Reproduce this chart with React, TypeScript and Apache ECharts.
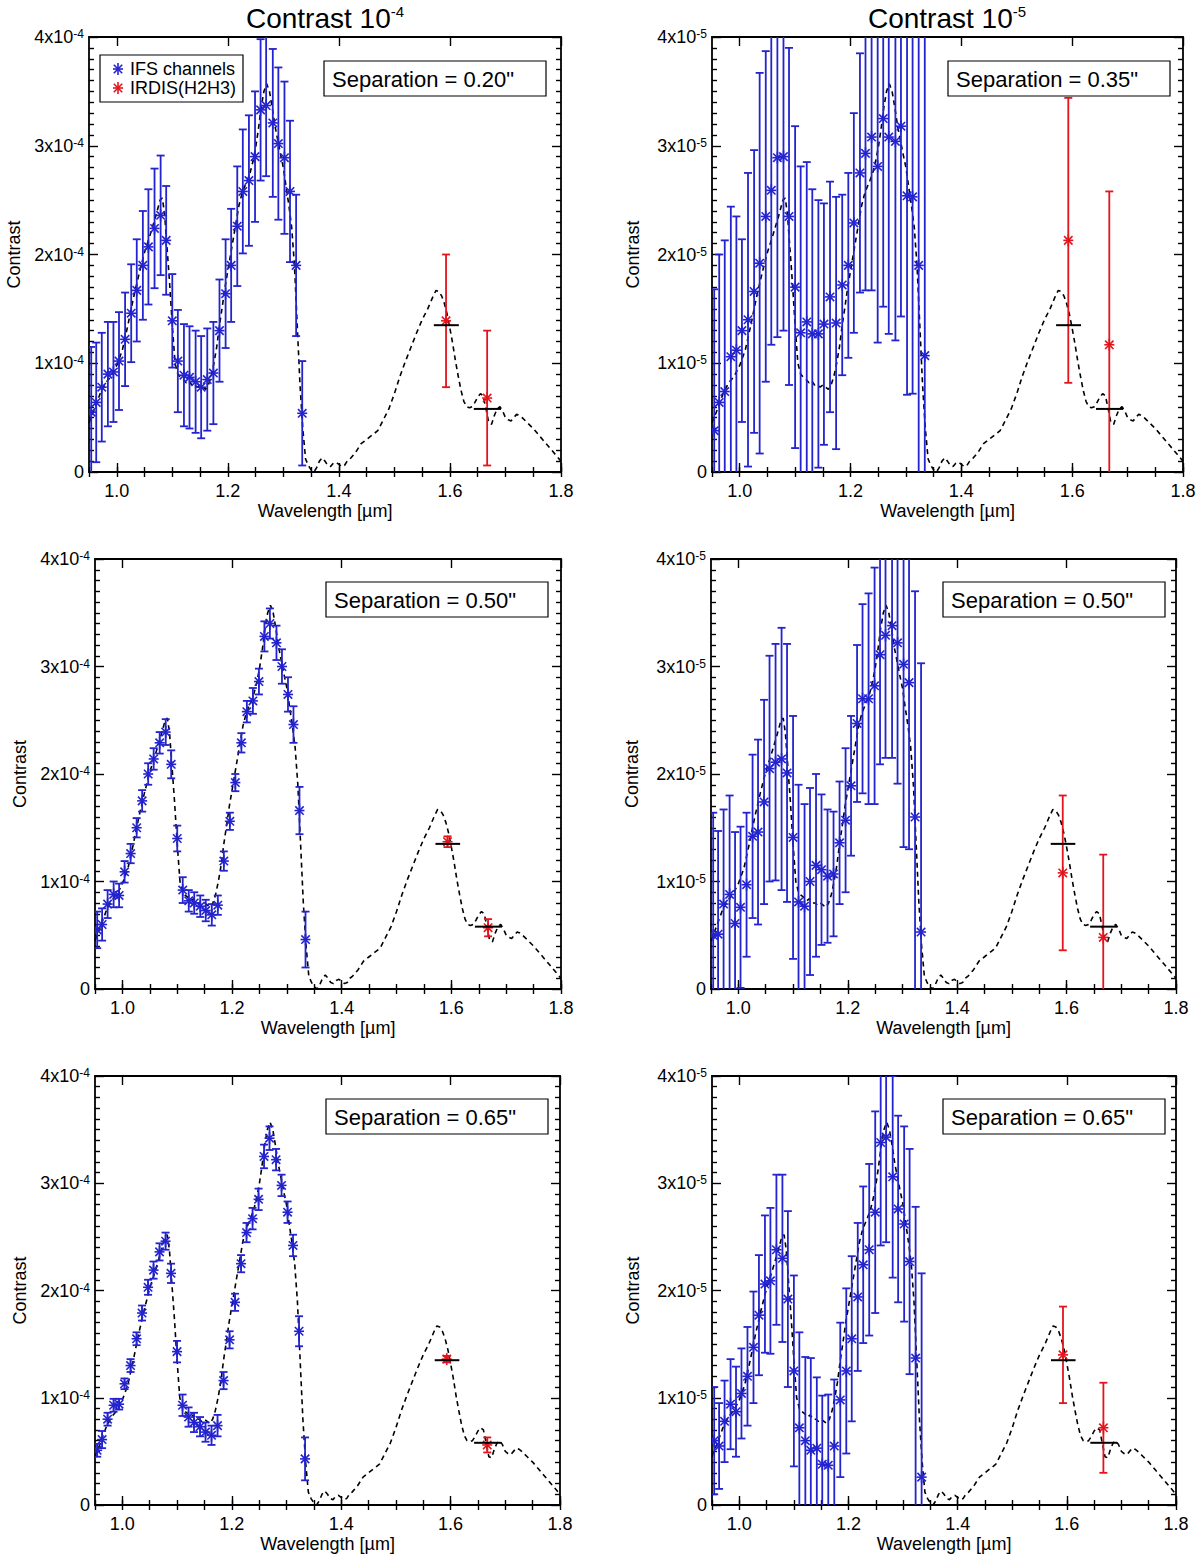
import React, { useEffect, useRef } from 'react';
import * as echarts from 'echarts';

// ---------------- DATA ----------------
const ifsWavelength = [
  0.954, 0.963, 0.973, 0.984, 0.994, 1.004, 1.015, 1.026, 1.036, 1.047, 1.057, 1.068, 1.079,
  1.089, 1.100, 1.110, 1.121, 1.131, 1.142, 1.152, 1.163, 1.174, 1.185, 1.196, 1.206, 1.217,
  1.227, 1.238, 1.249, 1.259, 1.269, 1.281, 1.291, 1.302, 1.312, 1.323, 1.334,
];

// values in units of 1e-4 (left column) or 1e-5 (right column)
const ifsSep020 = [0.55, 0.64, 0.78, 0.90, 0.92, 1.02, 1.22, 1.46, 1.67, 1.90, 2.07, 2.24, 2.36, 2.13, 1.39, 1.02, 0.89, 0.87, 0.83, 0.78, 0.85, 0.91, 1.30, 1.64, 1.90, 2.26, 2.58, 2.68, 2.90, 3.33, 3.37, 3.21, 3.02, 2.89, 2.58, 1.90, 0.54];
const ifsErr020 = [0.6, 0.55, 0.5, 0.48, 0.46, 0.45, 0.43, 0.45, 0.47, 0.5, 0.53, 0.55, 0.55, 0.5, 0.43, 0.47, 0.47, 0.47, 0.47, 0.47, 0.47, 0.47, 0.47, 0.5, 0.52, 0.55, 0.57, 0.6, 0.6, 0.65, 0.65, 0.68, 0.7, 0.7, 0.65, 0.65, 0.48];

const ifsSep035 = [0.38, 0.64, 0.74, 1.06, 1.12, 1.30, 1.40, 1.66, 1.92, 2.35, 2.59, 2.89, 2.90, 2.35, 1.70, 1.28, 1.38, 1.27, 1.27, 1.36, 1.61, 1.37, 1.72, 1.90, 2.29, 2.75, 2.93, 3.08, 2.81, 3.25, 3.08, 3.04, 3.18, 2.54, 2.53, 1.90, 1.07];
const ifsErr035 = [1.3, 1.36, 1.39, 1.38, 1.23, 0.84, 1.35, 1.3, 1.75, 1.52, 1.42, 1.65, 1.6, 1.55, 1.48, 1.53, 1.47, 1.33, 1.23, 1.11, 1.06, 1.16, 0.83, 0.85, 1.01, 1.1, 1.26, 1.41, 1.62, 1.73, 1.81, 1.83, 1.75, 1.83, 1.81, 2.5, 3.2];

const ifsSep050a = [0.55, 0.60, 0.79, 0.88, 0.87, 1.09, 1.26, 1.50, 1.75, 2.00, 2.14, 2.29, 2.39, 2.09, 1.40, 0.92, 0.82, 0.80, 0.77, 0.73, 0.69, 0.78, 1.19, 1.56, 1.92, 2.29, 2.58, 2.68, 2.86, 3.28, 3.40, 3.22, 3.00, 2.74, 2.46, 1.66, 0.46];
const ifsErr050a = [0.17, 0.15, 0.13, 0.12, 0.11, 0.1, 0.09, 0.09, 0.1, 0.1, 0.1, 0.1, 0.12, 0.13, 0.12, 0.12, 0.1, 0.1, 0.1, 0.1, 0.1, 0.09, 0.09, 0.08, 0.08, 0.09, 0.1, 0.12, 0.12, 0.14, 0.14, 0.16, 0.16, 0.16, 0.17, 0.22, 0.26];

const ifsSep050b = [0.50, 0.51, 0.79, 0.88, 0.61, 0.76, 0.97, 1.42, 1.46, 1.74, 2.05, 2.11, 2.14, 2.01, 1.41, 0.81, 0.77, 1.00, 1.15, 1.11, 1.05, 1.07, 1.36, 1.57, 1.89, 2.47, 2.70, 2.70, 2.82, 3.11, 3.29, 3.38, 3.22, 3.02, 2.85, 1.60, 0.53];
const ifsErr050b = [1.14, 0.96, 0.88, 0.92, 0.85, 0.75, 0.67, 0.76, 0.86, 0.95, 1.05, 1.1, 1.22, 1.2, 1.13, 1.09, 0.95, 0.87, 0.85, 0.7, 0.62, 0.58, 0.57, 0.67, 0.65, 0.73, 0.88, 0.98, 1.1, 1.02, 1.14, 1.23, 1.31, 1.7, 1.55, 2.1, 2.5];

const ifsSep065a = [0.51, 0.61, 0.80, 0.93, 0.94, 1.13, 1.30, 1.55, 1.79, 2.03, 2.19, 2.36, 2.46, 2.16, 1.43, 0.93, 0.82, 0.77, 0.73, 0.68, 0.65, 0.74, 1.16, 1.54, 1.89, 2.25, 2.54, 2.67, 2.85, 3.25, 3.42, 3.22, 2.98, 2.73, 2.42, 1.62, 0.43];
const ifsErr065a = [0.06, 0.08, 0.06, 0.06, 0.05, 0.05, 0.06, 0.06, 0.07, 0.07, 0.08, 0.08, 0.08, 0.09, 0.1, 0.1, 0.09, 0.09, 0.09, 0.09, 0.09, 0.1, 0.08, 0.08, 0.08, 0.08, 0.09, 0.1, 0.1, 0.11, 0.11, 0.1, 0.1, 0.1, 0.1, 0.14, 0.2];

const ifsSep065b = [0.60, 0.55, 0.78, 0.94, 0.87, 1.04, 1.20, 1.47, 1.77, 2.06, 2.09, 2.38, 2.30, 1.92, 1.25, 0.72, 0.60, 0.51, 0.53, 0.38, 0.37, 0.55, 0.98, 1.25, 1.55, 1.94, 2.24, 2.38, 2.73, 3.38, 3.43, 3.06, 2.76, 2.62, 2.27, 1.37, 0.26];
const ifsErr065b = [0.5, 0.4, 0.38, 0.42, 0.42, 0.42, 0.46, 0.52, 0.56, 0.64, 0.68, 0.7, 0.78, 0.82, 0.89, 0.89, 0.78, 0.86, 0.66, 0.64, 0.66, 0.62, 0.72, 0.77, 0.77, 0.69, 0.73, 0.8, 0.94, 0.96, 0.98, 0.94, 0.87, 0.91, 1.05, 1.41, 1.9];

const irdisWavelength = [1.593, 1.667];
const irdisSep020 = [1.39, 0.68];
const irdisErr020 = [0.61, 0.62];
const irdisSep035 = [2.13, 1.17];
const irdisErr035 = [1.31, 1.41];
const irdisSep050a = [1.37, 0.57];
const irdisErr050a = [0.05, 0.08];
const irdisSep050b = [1.08, 0.48];
const irdisErr050b = [0.72, 0.77];
const irdisSep065a = [1.36, 0.56];
const irdisErr065a = [0.03, 0.07];
const irdisSep065b = [1.40, 0.72];
const irdisErr065b = [0.45, 0.42];

// model integrated over the IRDIS filters
const bandLow = [1.571, 1.643];
const bandHigh = [1.616, 1.692];
const bandModel = [1.35, 0.58];

// model spectrum (dashed line)
const modelWavelength = [
  0.950, 0.960, 0.970, 0.980, 0.990, 1.000, 1.010, 1.020, 1.030, 1.040, 1.050, 1.060, 1.070, 1.078,
  1.082, 1.086, 1.090, 1.095, 1.100, 1.105, 1.110, 1.115, 1.120, 1.125, 1.130, 1.135, 1.140, 1.145,
  1.150, 1.155, 1.160, 1.165, 1.170, 1.175, 1.180, 1.185, 1.190, 1.195, 1.200, 1.205, 1.210, 1.215,
  1.220, 1.225, 1.230, 1.235, 1.240, 1.245, 1.250, 1.255, 1.260, 1.265, 1.270, 1.275, 1.280, 1.285,
  1.290, 1.295, 1.300, 1.305, 1.310, 1.315, 1.320, 1.325, 1.330, 1.335, 1.340, 1.345, 1.350, 1.355,
  1.360, 1.365, 1.370, 1.375, 1.380, 1.385, 1.390, 1.395, 1.400, 1.405, 1.410, 1.415, 1.420, 1.430,
  1.440, 1.450, 1.460, 1.470, 1.480, 1.490, 1.500, 1.510, 1.520, 1.530, 1.540, 1.550, 1.560, 1.570,
  1.575, 1.580, 1.585, 1.590, 1.595, 1.600, 1.605, 1.610, 1.615, 1.620, 1.625, 1.630, 1.635, 1.640,
  1.645, 1.650, 1.655, 1.660, 1.665, 1.670, 1.675, 1.680, 1.685, 1.690, 1.695, 1.700, 1.705, 1.710,
  1.715, 1.720, 1.725, 1.730, 1.740, 1.750, 1.760, 1.770, 1.780, 1.790, 1.800,
];
const modelContrast = [
  0.45, 0.58, 0.72, 0.82, 0.88, 0.98, 1.12, 1.35, 1.60, 1.82, 2.02, 2.18, 2.35, 2.50,
  2.52, 2.38, 2.10, 1.75, 1.35, 1.00, 0.90, 0.87, 0.85, 0.82, 0.84, 0.80, 0.80, 0.78,
  0.80, 0.78, 0.76, 0.80, 0.88, 1.00, 1.15, 1.35, 1.52, 1.70, 1.85, 2.00, 2.15, 2.30,
  2.45, 2.55, 2.62, 2.68, 2.75, 2.85, 2.98, 3.15, 3.35, 3.50, 3.57, 3.50, 3.35, 3.18,
  3.05, 2.92, 2.80, 2.62, 2.45, 2.25, 1.90, 1.35, 0.80, 0.40, 0.12, 0.06, 0.02, 0.00,
  0.04, 0.10, 0.13, 0.10, 0.06, 0.05, 0.08, 0.09, 0.07, 0.05, 0.06, 0.10, 0.12, 0.18,
  0.26, 0.30, 0.34, 0.38, 0.48, 0.58, 0.72, 0.88, 1.02, 1.15, 1.28, 1.40, 1.50, 1.62,
  1.67, 1.66, 1.62, 1.55, 1.45, 1.32, 1.18, 1.02, 0.88, 0.75, 0.65, 0.60, 0.59, 0.60,
  0.64, 0.69, 0.72, 0.70, 0.58, 0.45, 0.44, 0.52, 0.58, 0.60, 0.56, 0.50, 0.48, 0.47,
  0.50, 0.53, 0.52, 0.50, 0.45, 0.40, 0.34, 0.28, 0.22, 0.16, 0.10,
];

const xMajorTicks = [1.0, 1.2, 1.4, 1.6, 1.8];
const xMinorTicks = [0.95, 1.0, 1.05, 1.1, 1.15, 1.2, 1.25, 1.3, 1.35, 1.4, 1.45, 1.5, 1.55, 1.6, 1.65, 1.7, 1.75, 1.8];
const columnExponents = ['-4', '-5'];
const separations = ['0.20', '0.35', '0.50', '0.50', '0.65', '0.65'];

const ifsValues = [ifsSep020, ifsSep035, ifsSep050a, ifsSep050b, ifsSep065a, ifsSep065b];
const ifsErrors = [ifsErr020, ifsErr035, ifsErr050a, ifsErr050b, ifsErr065a, ifsErr065b];
const irdisValues = [irdisSep020, irdisSep035, irdisSep050a, irdisSep050b, irdisSep065a, irdisSep065b];
const irdisErrors = [irdisErr020, irdisErr035, irdisErr050a, irdisErr050b, irdisErr065a, irdisErr065b];

// ---------------- LAYOUT ----------------
const panels = [
  { left: 89, top: 37, width: 472, height: 435, box: [324, 61] },
  { left: 712, top: 37, width: 471, height: 435, box: [948, 61] },
  { left: 95, top: 559, width: 466, height: 430, box: [326, 582] },
  { left: 711, top: 559, width: 465, height: 430, box: [943, 582] },
  { left: 95, top: 1076, width: 465, height: 429, box: [326, 1099] },
  { left: 712, top: 1076, width: 464, height: 429, box: [943, 1099] },
];

const FONT = '"Liberation Sans", Arial, Helvetica, sans-serif';
const BLUE = '#2323cf';
const RED = '#e3141c';
const BLACK = '#000000';

function starLines(cx: number, cy: number, color: string, z?: number) {
  const r = 6;
  const h = 5;
  const d = 4.2;
  const style = { stroke: color, lineWidth: 1.6, fill: 'none' };
  const extra = z === undefined ? {} : { z };
  return [
    { type: 'line', ...extra, shape: { x1: cx, y1: cy - r, x2: cx, y2: cy + r }, style },
    { type: 'line', ...extra, shape: { x1: cx - h, y1: cy, x2: cx + h, y2: cy }, style },
    { type: 'line', ...extra, shape: { x1: cx - d, y1: cy - d, x2: cx + d, y2: cy + d }, style },
    { type: 'line', ...extra, shape: { x1: cx - d, y1: cy + d, x2: cx + d, y2: cy - d }, style },
  ];
}

function errorBarRenderer(color: string) {
  return (params: any, api: any) => {
    const x = api.value(0);
    const y = api.value(1);
    const e = api.value(2);
    const c = api.coord([x, y]);
    const t = api.coord([x, y + e]);
    const b = api.coord([x, y - e]);
    const cap = 4;
    const style = { stroke: color, lineWidth: 1.8, fill: 'none' };
    const children: any[] = [
      { type: 'line', shape: { x1: c[0], y1: t[1], x2: c[0], y2: b[1] }, style },
      { type: 'line', shape: { x1: c[0] - cap, y1: t[1], x2: c[0] + cap, y2: t[1] }, style },
      { type: 'line', shape: { x1: c[0] - cap, y1: b[1], x2: c[0] + cap, y2: b[1] }, style },
      ...starLines(c[0], c[1], color),
    ];
    return { type: 'group', children };
  };
}

function bandRenderer(params: any, api: any) {
  const p1 = api.coord([api.value(0), api.value(2)]);
  const p2 = api.coord([api.value(1), api.value(2)]);
  return {
    type: 'line',
    shape: { x1: p1[0], y1: p1[1], x2: p2[0], y2: p2[1] },
    style: { stroke: BLACK, lineWidth: 2, fill: 'none' },
  };
}

function buildOption() {
  const grid: any[] = [];
  const xAxis: any[] = [];
  const yAxis: any[] = [];
  const series: any[] = [];
  const graphic: any[] = [];

  const tickLine = { color: BLACK, width: 1.4 };
  const axisLineStyle = { color: BLACK, width: 1.8 };

  panels.forEach((p, i) => {
    const exp = columnExponents[i % 2];
    grid.push({ left: p.left, top: p.top, width: p.width, height: p.height, containLabel: false });

    const baseX = {
      type: 'value', gridIndex: i, min: 0.95, max: 1.8,
      splitLine: { show: false },
      axisLabel: { show: false },
      axisLine: { show: false },
      axisTick: { show: false },
    };
    xAxis.push({
      ...baseX,
      position: 'bottom',
      axisLine: { show: true, onZero: false, lineStyle: axisLineStyle },
      axisTick: { show: true, inside: true, length: 9, customValues: xMajorTicks, lineStyle: tickLine },
      axisLabel: {
        show: true, customValues: xMajorTicks, formatter: (v: number) => Number(v).toFixed(1),
        color: BLACK, fontSize: 18, fontFamily: FONT, margin: 10,
      },
      name: 'Wavelength [\u00b5m]', nameLocation: 'middle', nameGap: 30,
      nameTextStyle: { color: BLACK, fontSize: 18, fontFamily: FONT },
    });
    xAxis.push({
      ...baseX, position: 'bottom',
      axisTick: { show: true, inside: true, length: 5, customValues: xMinorTicks, lineStyle: tickLine },
    });
    xAxis.push({
      ...baseX, position: 'top',
      axisLine: { show: true, onZero: false, lineStyle: axisLineStyle },
      axisTick: { show: true, inside: true, length: 9, customValues: xMajorTicks, lineStyle: tickLine },
    });
    xAxis.push({
      ...baseX, position: 'top',
      axisTick: { show: true, inside: true, length: 5, customValues: xMinorTicks, lineStyle: tickLine },
    });

    const baseY = {
      type: 'value', gridIndex: i, min: 0, max: 4, interval: 1,
      splitLine: { show: false },
      axisLine: { show: true, onZero: false, lineStyle: axisLineStyle },
      axisTick: { show: true, inside: true, length: 9, lineStyle: tickLine },
      minorTick: { show: true, splitNumber: 10, length: 5, lineStyle: tickLine },
      minorSplitLine: { show: false },
    };
    yAxis.push({
      ...baseY, position: 'left',
      axisLabel: {
        show: true, margin: 5,
        formatter: (v: number) => (v === 0 ? '{m|0}' : `{m|${v}x10}{s|${exp}}`),
        rich: {
          m: { fontSize: 18, fontFamily: FONT, color: BLACK },
          s: { fontSize: 12, fontFamily: FONT, color: BLACK, verticalAlign: 'top' },
        },
      },
      name: 'Contrast', nameLocation: 'middle', nameRotate: 90, nameGap: i % 2 === 0 ? 66 : 70,
      nameTextStyle: { color: BLACK, fontSize: 18, fontFamily: FONT },
    });
    yAxis.push({ ...baseY, position: 'right', axisLabel: { show: false } });

    const xi = i * 4;
    const yi = i * 2;
    series.push({
      type: 'line', xAxisIndex: xi, yAxisIndex: yi, z: 2,
      data: modelWavelength.map((w, k) => [w, modelContrast[k]]),
      symbol: 'none', showSymbol: false, smooth: false, clip: true,
      lineStyle: { color: BLACK, width: 1.6, type: [5, 4] },
      silent: true,
    });
    series.push({
      type: 'custom', xAxisIndex: xi, yAxisIndex: yi, z: 3, clip: true,
      renderItem: errorBarRenderer(BLUE),
      encode: { x: 0, y: 1 },
      data: ifsWavelength.map((w, k) => [w, ifsValues[i][k], ifsErrors[i][k]]),
    });
    series.push({
      type: 'custom', xAxisIndex: xi, yAxisIndex: yi, z: 4, clip: true,
      renderItem: errorBarRenderer(RED),
      encode: { x: 0, y: 1 },
      data: irdisWavelength.map((w, k) => [w, irdisValues[i][k], irdisErrors[i][k]]),
    });
    series.push({
      type: 'custom', xAxisIndex: xi, yAxisIndex: yi, z: 5, clip: true,
      renderItem: bandRenderer,
      encode: { x: [0, 1], y: 2 },
      data: bandLow.map((lo, k) => [lo, bandHigh[k], bandModel[k]]),
    });

    // separation box
    graphic.push({
      type: 'rect', z: 50,
      shape: { x: p.box[0], y: p.box[1], width: 222, height: 35 },
      style: { fill: '#ffffff', stroke: BLACK, lineWidth: 1.2 },
    });
    graphic.push({
      type: 'text', z: 51, x: p.box[0] + 8, y: p.box[1] + 18,
      style: {
        text: `Separation = ${separations[i]}"`, fill: BLACK,
        font: `22px ${FONT}`, align: 'left', verticalAlign: 'middle',
      },
    });
  });

  // column titles
  [325, 947].forEach((cx, c) => {
    graphic.push({
      type: 'text', z: 51, x: cx, y: 18,
      style: {
        text: `{a|Contrast 10}{s|${columnExponents[c]}}`,
        align: 'center', verticalAlign: 'middle', fill: BLACK,
        rich: {
          a: { fontSize: 28, fontFamily: FONT, fill: BLACK },
          s: { fontSize: 15, fontFamily: FONT, fill: BLACK, verticalAlign: 'top' },
        },
      },
    });
  });

  // legend (panel 1)
  graphic.push({
    type: 'rect', z: 50,
    shape: { x: 100, y: 55, width: 143, height: 47 },
    style: { fill: '#ffffff', stroke: BLACK, lineWidth: 1.2 },
  });
  starLines(118, 69, BLUE, 52).forEach((el) => graphic.push(el));
  starLines(118, 88, RED, 52).forEach((el) => graphic.push(el));
  graphic.push({
    type: 'text', z: 51, x: 130, y: 69,
    style: { text: 'IFS channels', fill: BLACK, font: `18px ${FONT}`, align: 'left', verticalAlign: 'middle' },
  });
  graphic.push({
    type: 'text', z: 51, x: 130, y: 88,
    style: { text: 'IRDIS(H2H3)', fill: BLACK, font: `18px ${FONT}`, align: 'left', verticalAlign: 'middle' },
  });

  return {
    animation: false,
    backgroundColor: '#ffffff',
    textStyle: { fontFamily: FONT },
    grid, xAxis, yAxis, series, graphic,
  };
}

export default function App() {
  const ref = useRef<HTMLDivElement | null>(null);
  useEffect(() => {
    if (!ref.current) return;
    const chart = echarts.init(ref.current, undefined, { renderer: 'svg' });
    chart.setOption(buildOption() as any);
    return () => chart.dispose();
  }, []);
  return (
    <div
      ref={ref}
      style={{ position: 'absolute', left: 0, top: 0, width: 1200, height: 1555, background: '#fff' }}
    />
  );
}
